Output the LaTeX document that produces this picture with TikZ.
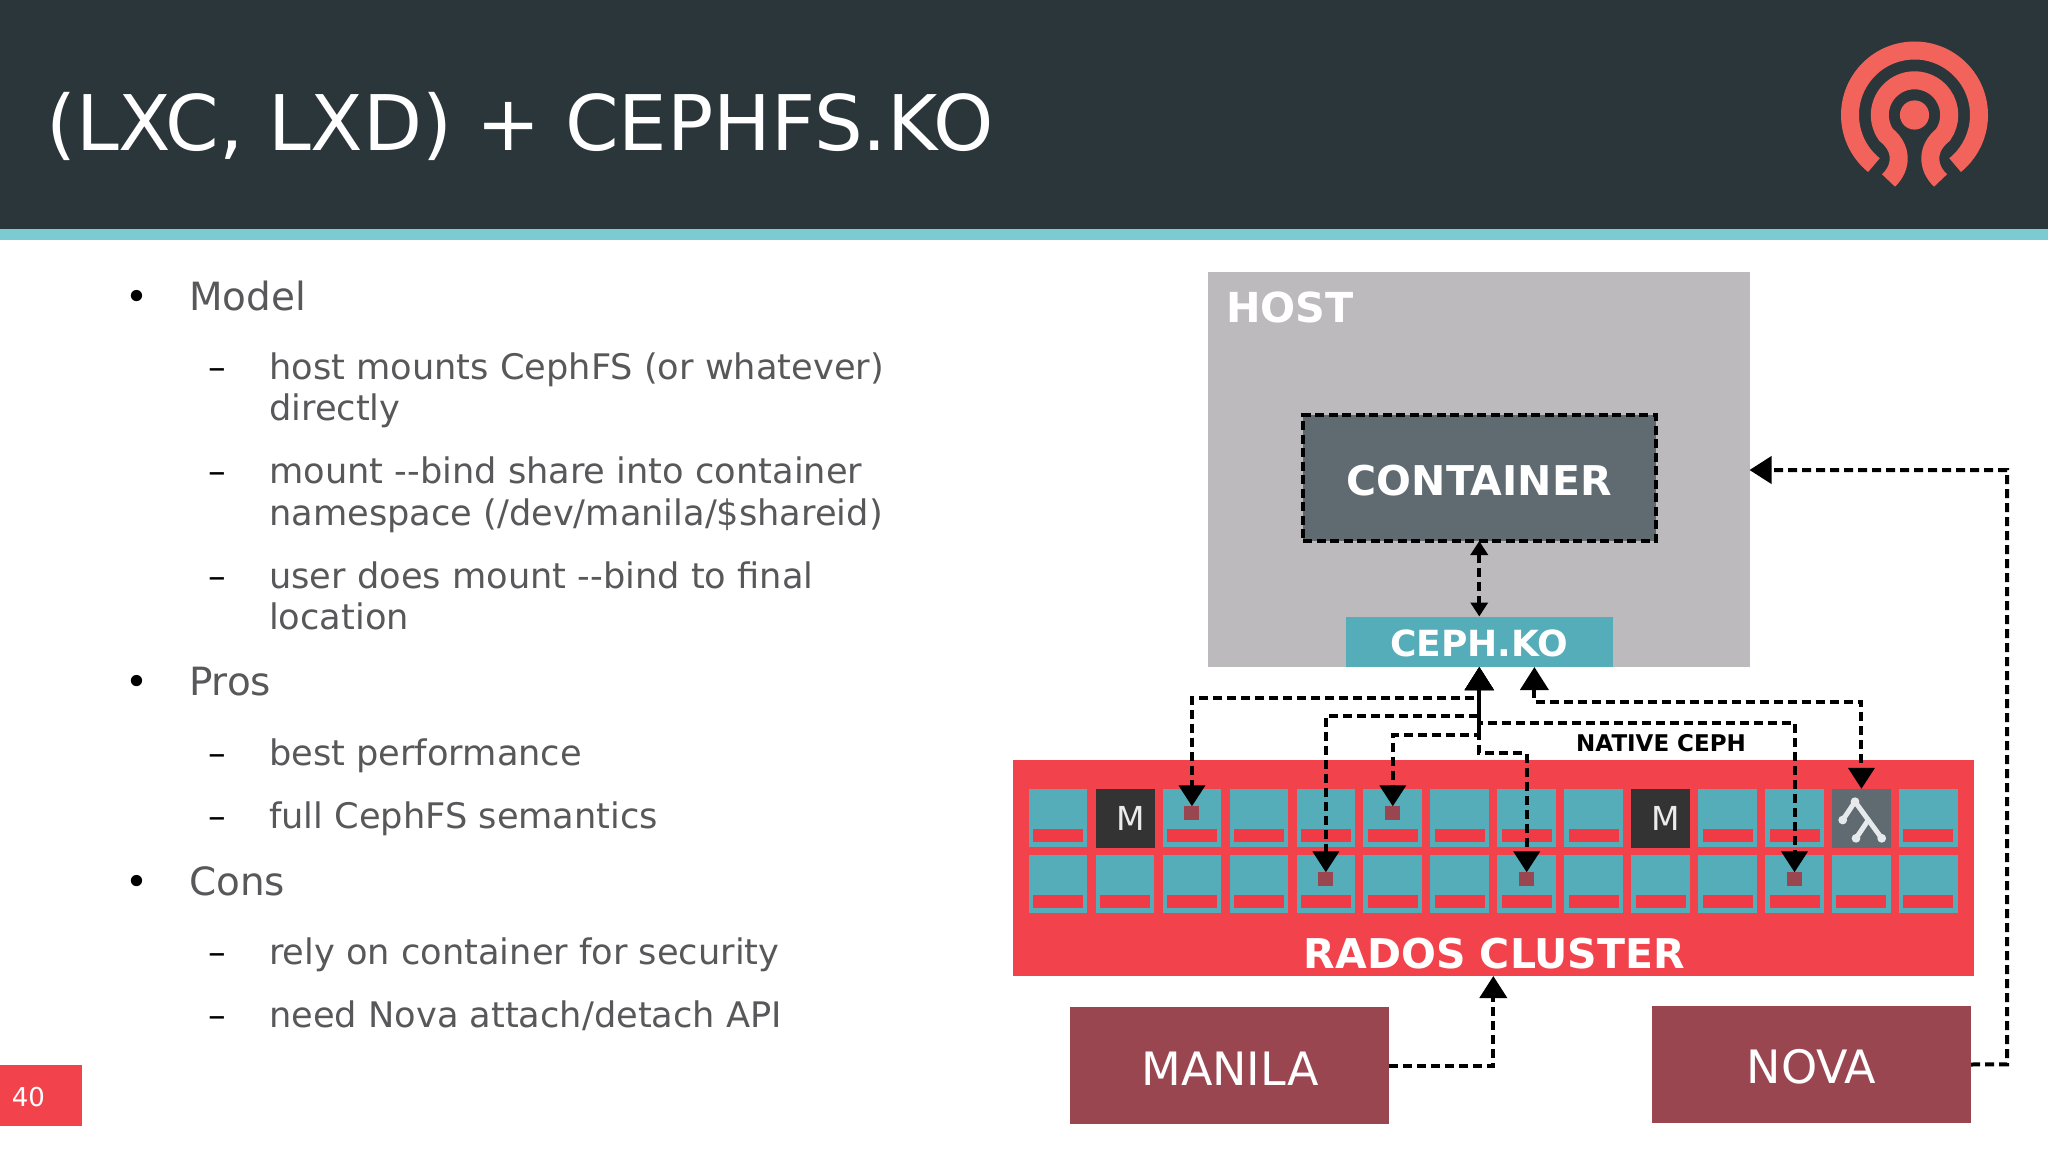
\documentclass[tikz,border=0pt]{standalone}
\usepackage{fontspec}
\setmainfont{DejaVu Sans}
\usetikzlibrary{arrows.meta,calc}
\definecolor{hdr}{HTML}{2B363A}
\definecolor{hdrbar}{HTML}{7CCBD2}
\definecolor{hostc}{HTML}{BCBABD}
\definecolor{contc}{HTML}{5F6A71}
\definecolor{tealc}{HTML}{55ADBA}
\definecolor{radosc}{HTML}{F2424C}
\definecolor{barc}{HTML}{F03A46}
\definecolor{maroon}{HTML}{9A4650}
\definecolor{darkm}{HTML}{333333}
\definecolor{logoc}{HTML}{F2635B}
\definecolor{bodyc}{HTML}{58585A}
\definecolor{iconc}{HTML}{E6EAEC}
\tikzset{
 x=1pt,y=1pt,
 box/.style={draw=none,inner sep=0pt,outer sep=0pt,anchor=north west,text=white},
 cell/.style={box,fill=tealc,minimum width=58.7pt,minimum height=58pt},
 redbar/.style={box,fill=barc,minimum width=50pt,minimum height=12.5pt,anchor=south},
 marker/.style={box,fill=maroon,minimum width=15pt,minimum height=14pt,anchor=north},
 monbox/.style={box,anchor=center,fill=darkm,minimum width=59pt,minimum height=59pt},
 montext/.style={anchor=base,inner sep=0pt,text=white!92!black,font=\fontsize{33}{40}\selectfont},
 boxtext/.style={anchor=base,inner sep=0pt,text=white},
 link/.style={draw=black,line width=4pt,dash pattern=on 9pt off 5pt,line join=miter},
 trunk/.style={draw=black,line width=4pt},
 bigtip/.style={{Triangle[width=28pt,length=23pt]}-{Triangle[width=26pt,length=21pt]}},
 endtip/.style={-{Triangle[width=27pt,length=22pt]}},
 smalltip/.style={{Triangle[width=17pt,length=14pt]}-{Triangle[width=17pt,length=14pt]}},
 lvlone/.style={anchor=base west,inner sep=0pt,text=bodyc,font=\fontsize{38.9}{46}\selectfont},
 lvltwo/.style={anchor=base west,inner sep=0pt,text=bodyc,font=\fontsize{35.2}{42}\selectfont},
 bult/.style={lvlone,text=black},
 dsh/.style={lvltwo,text=black},
}
\begin{document}
\begin{tikzpicture}
\useasboundingbox (0,0) rectangle (2048,-1150);
\fill[white] (0,0) rectangle (2048,-1150);
\fill[hdr] (0,0) rectangle (2048,-229);
\fill[hdrbar] (0,-229) rectangle (2048,-240);
\node[anchor=base west,inner sep=0pt,text=white,font=\fontsize{76.7}{90}\selectfont] (title) at (46,-151) {(LXC, LXD) + CEPHFS.KO};
% logo
\begin{scope}[shift={(1914.5,-115)},logoc,line width=18pt]
\draw (231:64.5) arc (231:-51:64.5);
\draw (-26,-65.5) .. controls (-12,-52) and (-12,-33) .. (-28.4,-19.9) arc (215:-35:34.7) .. controls (12,-33) and (12,-52) .. (26,-65.5);
\fill (0,0) circle (14.6);
\end{scope}
% left text
\node[bult] (b1) at (125.5,-311) {•};
\node[lvlone] (t1) at (189,-311) {Model};
\node[dsh] (d1) at (208,-379) {–};
\node[lvltwo] (t2) at (269,-379) {host mounts CephFS (or whatever)};
\node[lvltwo] (t2b) at (269,-420) {directly};
\node[dsh] (d2) at (208,-483) {–};
\node[lvltwo] (t3) at (269,-483) {mount -{}-bind share into container};
\node[lvltwo] (t3b) at (269,-525) {namespace (/dev/manila/\$shareid)};
\node[dsh] (d3) at (208,-588) {–};
\node[lvltwo] (t4) at (269,-588) {user does mount -{}-bind to final};
\node[lvltwo] (t4b) at (269,-629) {location};
\node[bult] (b2) at (125.5,-695) {•};
\node[lvlone] (t5) at (189,-695) {Pros};
\node[dsh] (d4) at (208,-765) {–};
\node[lvltwo] (t6) at (269,-765) {best performance};
\node[dsh] (d5) at (208,-828) {–};
\node[lvltwo] (t7) at (269,-828) {full CephFS semantics};
\node[bult] (b3) at (125.5,-895) {•};
\node[lvlone] (t8) at (189,-895) {Cons};
\node[dsh] (d6) at (208,-964) {–};
\node[lvltwo] (t9) at (269,-964) {rely on container for security};
\node[dsh] (d7) at (208,-1027) {–};
\node[lvltwo] (t10) at (269,-1027) {need Nova attach/detach API};
\node[box,fill=radosc,minimum width=82pt,minimum height=61pt] (pg) at (0,-1065) {};
\node[anchor=center,text=white,font=\fontsize{26}{30}\selectfont,inner sep=0pt] (pgt) at (28.5,-1097) {40};
% host
\node[box,fill=hostc,minimum width=541.5pt,minimum height=395pt] (host) at (1208,-272) {};
\node[anchor=base west,inner sep=0pt,text=white,font=\bfseries\fontsize{41.3}{50}\selectfont] (hostt) at (1226,-323) {HOST};
\node[box,fill=contc,minimum width=352.5pt,minimum height=126pt,draw=black,line width=4pt,dash pattern=on 9pt off 4.5pt] (cont) at (1303,-415) {};
\node[boxtext,font=\bfseries\fontsize{41}{50}\selectfont] (contt) at (1479.25,-495) {CONTAINER};
\node[box,fill=tealc,minimum width=266.5pt,minimum height=50.5pt] (ko) at (1346,-616.5) {};
\node[boxtext,font=\bfseries\fontsize{36}{44}\selectfont] (kot) at (1479.25,-656) {CEPH.KO};
\draw[link,smalltip] (cont.south) -- (ko.north);
% rados
\node[box,fill=radosc,minimum width=961pt,minimum height=216pt] (rados) at (1013,-760) {};
\node[boxtext,font=\bfseries\fontsize{41}{50}\selectfont] (radost) at (1494.5,-968) {RADOS CLUSTER};
\foreach \r/\y in {a/-789.3,b/-855.3}{
 \foreach \n in {1,...,14}{
  \pgfmathsetmacro{\xx}{1028.7+66.95*(\n-1)}
  \node[cell] (c\r\n) at (\xx,\y) {};
  \node[redbar] (bar\r\n) at ($(c\r\n.south)+(0,5.5)$) {};
 }
}
\node[monbox] (ma) at (ca2.center) {};
\node[montext] (mat) at (1130.7,-830.7) {M};
\node[monbox] (mb) at (ca10.center) {};
\node[montext] (mbt) at (1666.2,-830.7) {M};
\node[box,anchor=center,fill=contc,minimum width=59pt,minimum height=59pt] (gw) at (ca13.center) {};
\begin{scope}[draw=iconc,line width=5pt,line cap=round,line join=round,fill=iconc]
\draw (1842.7,-820) -- (1855,-801.7) -- (1881.7,-838.3);
\draw (1868.3,-820) -- (1856,-838.3);
\fill (1842.7,-820) circle (4.4) (1855,-801.7) circle (4.4) (1881.7,-838.3) circle (4.4) (1856,-838.3) circle (4.4);
\end{scope}
\foreach \nm/\c in {mka/a3,mkc/a6,mkd/b5,mke/b8,mkf/b12}{
  \node[marker] (\nm) at ($(c\c.north)+(0,-17)$) {};
}
\node[anchor=base west,inner sep=0pt,text=black,font=\bfseries\fontsize{23}{26}\selectfont] (nat) at (1576,-751) {NATIVE CEPH};
% bottom boxes
\node[box,fill=maroon,minimum width=319.5pt,minimum height=117pt] (manila) at (1069.5,-1007) {};
\node[boxtext,font=\fontsize{46}{56}\selectfont] (manilat) at (1230,-1085) {MANILA};
\node[box,fill=maroon,minimum width=319.5pt,minimum height=117pt] (nova) at (1651.7,-1006) {};
\node[boxtext,font=\fontsize{46}{56}\selectfont] (novat) at (1811.5,-1083.3) {NOVA};
% connectors
\coordinate (h1) at (ko.south |- 0,-698);
\coordinate (h2) at (ko.south |- 0,-715.7);
\coordinate (h3) at (ko.south |- 0,-735);
\coordinate (h4) at (ko.south |- 0,-753.3);
\coordinate (h5) at (ko.south |- 0,-722.7);
\coordinate (k2) at (1534.4,-667);
\coordinate (k2b) at (1534.4,-701.7);
\draw[trunk] ($(ko.south)+(0,-12)$) -- (h3);
\draw[link,bigtip] (ko.south) -- (h1) -| (mka.north);
\draw[link,bigtip] (ko.south) -- (h2) -| (mkd.north);
\draw[link,bigtip] (ko.south) -- (h3) -| (mkc.north);
\draw[link,bigtip] (ko.south) -- (h4) -| (mke.north);
\draw[link,bigtip] (ko.south) -- (h5) -| (mkf.north);
\draw[link,bigtip] (k2) -- (k2b) -| (gw.north);
\coordinate (rb) at (1493.3,-976);
\coordinate (nv1) at (2007,-1064.3);
\coordinate (nv2) at (2007,-470);
\coordinate (hr) at (host.east |- nv2);
\draw[link,endtip] (manila.east) -| (rb);
\draw[link,endtip] (nova.east) -- (nv1) -- (nv2) -- (hr);
\end{tikzpicture}
\end{document}
